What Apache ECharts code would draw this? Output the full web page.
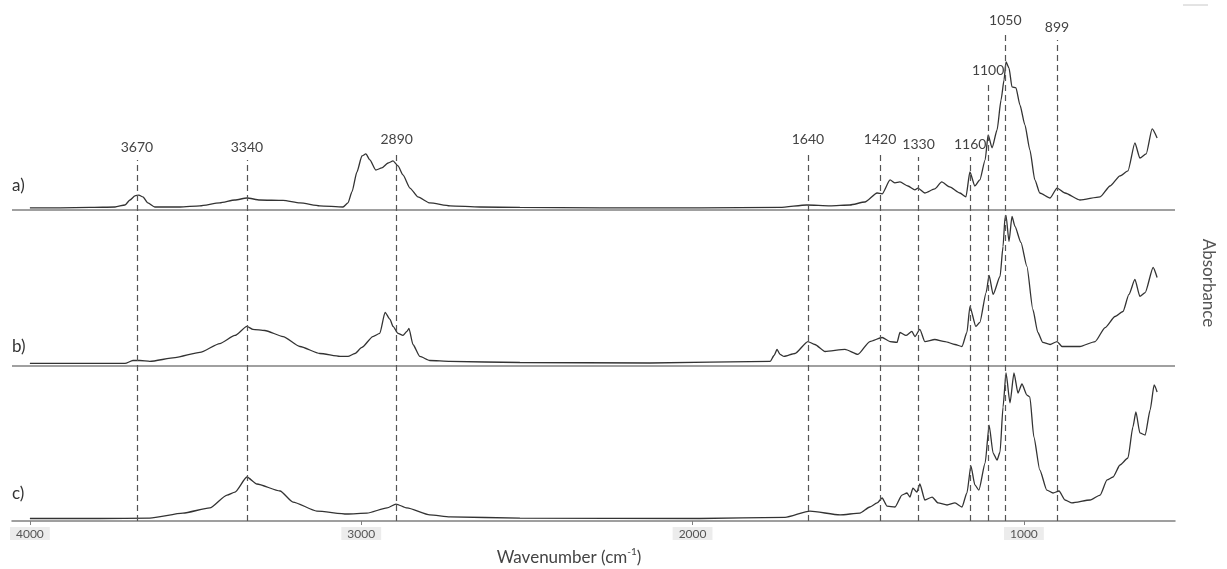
<!DOCTYPE html>
<html>
<head>
<meta charset="utf-8">
<script src="https://cdn.jsdelivr.net/npm/echarts@6/dist/echarts.min.js"></script>
<style>
html,body{margin:0;padding:0;background:#fff;}
#chart{width:1227px;height:569px;}
</style>
</head>
<body>
<div id="chart"></div>
<script>
// ---- data (wavenumber in cm-1, absorbance in arbitrary units) ----
const tickValues = [4000, 3000, 2000, 1000];

const wnA = [4000,3909,3819,3743,3713,3698,3683,3671,3659,3644,3623,3547,3487,3427,3381,3345,3306,3236,3185,3125,3055,3040,3028,3013,2998,2986,2974,2956,2938,2919,2904,2889,2874,2853,2829,2793,2732,2642,2521,2280,1978,1736,1655,1585,1525,1480,1443,1428,1404,1389,1374,1350,1329,1320,1299,1269,1248,1224,1193,1175,1163,1148,1133,1117,1108,1096,1081,1069,1060,1054,1045,1036,1024,1012,997,982,967,952,921,900,876,831,770,740,710,686,665,650,631,613,598];
const absA = [0.013,0.013,0.016,0.019,0.032,0.064,0.090,0.096,0.084,0.045,0.019,0.019,0.026,0.045,0.064,0.077,0.064,0.061,0.045,0.026,0.019,0.045,0.116,0.244,0.347,0.360,0.322,0.257,0.270,0.302,0.315,0.283,0.225,0.141,0.084,0.045,0.026,0.019,0.016,0.013,0.013,0.016,0.032,0.026,0.032,0.051,0.109,0.103,0.193,0.174,0.180,0.154,0.129,0.141,0.109,0.135,0.180,0.148,0.109,0.084,0.244,0.154,0.193,0.322,0.482,0.399,0.514,0.707,0.836,0.952,0.913,0.791,0.785,0.675,0.547,0.386,0.193,0.109,0.077,0.141,0.109,0.064,0.084,0.154,0.219,0.251,0.431,0.334,0.360,0.521,0.463];

const wnB = [4000,3819,3713,3689,3668,3638,3562,3487,3427,3381,3345,3327,3291,3236,3185,3125,3064,3040,3019,2998,2965,2944,2928,2913,2904,2889,2874,2862,2856,2844,2823,2793,2732,2521,2129,1766,1754,1745,1736,1724,1691,1652,1631,1600,1540,1501,1465,1428,1404,1383,1374,1356,1338,1329,1314,1299,1269,1238,1208,1187,1172,1163,1145,1133,1114,1105,1093,1072,1063,1057,1054,1045,1036,1027,1009,991,973,958,943,921,900,885,831,785,755,725,701,683,665,650,634,610,598];
const absB = [0.013,0.013,0.013,0.032,0.032,0.026,0.051,0.084,0.141,0.193,0.251,0.232,0.225,0.186,0.122,0.077,0.058,0.058,0.077,0.116,0.186,0.206,0.341,0.296,0.251,0.206,0.193,0.219,0.238,0.135,0.058,0.032,0.026,0.019,0.016,0.026,0.064,0.103,0.071,0.058,0.077,0.154,0.135,0.090,0.103,0.071,0.154,0.180,0.154,0.148,0.212,0.193,0.219,0.186,0.232,0.154,0.167,0.154,0.135,0.122,0.212,0.379,0.251,0.277,0.469,0.579,0.457,0.572,0.765,0.952,0.965,0.797,0.958,0.894,0.791,0.637,0.360,0.212,0.148,0.135,0.154,0.122,0.122,0.154,0.244,0.315,0.347,0.457,0.553,0.444,0.469,0.630,0.566];

const wnC = [4000,3789,3638,3538,3457,3405,3381,3345,3315,3245,3206,3134,3043,2983,2922,2895,2862,2793,2732,2521,1978,1721,1646,1555,1495,1465,1443,1428,1413,1389,1368,1353,1344,1335,1323,1314,1299,1277,1259,1232,1208,1187,1172,1160,1148,1136,1117,1105,1093,1081,1072,1063,1054,1042,1030,1018,1006,991,982,970,952,931,912,894,876,855,800,770,749,731,710,686,671,662,650,634,619,607,598];
const absC = [0.016,0.016,0.019,0.051,0.084,0.167,0.186,0.283,0.238,0.193,0.122,0.064,0.045,0.051,0.084,0.109,0.084,0.039,0.026,0.019,0.016,0.023,0.064,0.039,0.051,0.090,0.116,0.148,0.096,0.090,0.167,0.180,0.154,0.212,0.186,0.238,0.135,0.154,0.116,0.103,0.116,0.090,0.180,0.354,0.232,0.199,0.373,0.617,0.437,0.392,0.444,0.733,0.952,0.759,0.952,0.823,0.881,0.810,0.797,0.540,0.328,0.199,0.180,0.193,0.135,0.116,0.135,0.167,0.264,0.283,0.360,0.405,0.605,0.701,0.566,0.553,0.714,0.875,0.830];

// assigned band labels and where their guide lines sit on the picture
const guideLabels = ['3670','3340','2890','1640','1420','1330','1160','1100','1050','899'];
const guidePos    = [3677, 3345, 2893, 1652, 1434, 1318, 1162, 1108, 1056, 900];
const guideTop    = [2.322, 2.322, 2.379, 2.373, 2.373, 2.341, 2.341, 2.817, 3.138, 3.093];

const panelNames = ['a)', 'b)', 'c)'];
const panelOffset = [2, 1, 0];

// ---- chart ----
function build(wn, ab, off) { return wn.map((w, i) => [w, ab[i] + off]); }

const lineStyleSpec = { color: '#333', width: 1.3 };
const spectrumBase = { type: 'line', symbol: 'none', silent: true, smooth: 0.2, smoothMonotone: 'x', lineStyle: lineStyleSpec };
const chart = echarts.init(document.getElementById('chart'), null, { renderer: 'canvas' });

chart.setOption({
  animation: false,
  backgroundColor: '#fff',
  grid: { left: 12, right: 52, top: 0, bottom: 48, containLabel: false, outerBoundsMode: 'none' },
  xAxis: {
    type: 'value', inverse: true, min: 544, max: 4054,
    axisLine: { show: true, lineStyle: { color: '#808080', width: 1.5 } },
    axisTick: { show: true, customValues: tickValues, length: 4, lineStyle: { color: '#808080' } },
    axisLabel: { customValues: tickValues, margin: 6, color: '#555', fontSize: 12, fontFamily: 'Lato',
                 backgroundColor: '#ececec', padding: [1, 6, 0, 6], formatter: v => String(v) },
    splitLine: { show: false }
  },
  yAxis: { type: 'value', min: 0, max: 3.35, show: false },
  series: [
    Object.assign({}, spectrumBase, { name: 'a', data: build(wnA, absA, panelOffset[0]) }),
    Object.assign({}, spectrumBase, { name: 'b', data: build(wnB, absB, panelOffset[1]),
      markLine: { symbol: 'none', silent: true, label: { show: false },
        lineStyle: { color: '#808080', width: 1.5, type: 'solid' },
        data: [{ yAxis: panelOffset[1] }, { yAxis: panelOffset[0] }] } }),
    Object.assign({}, spectrumBase, { name: 'c', data: build(wnC, absC, panelOffset[2]),
      markLine: { symbol: 'none', silent: true,
        lineStyle: { color: '#555', width: 1.2, type: [6, 4] },
        label: { show: true, position: 'end', distance: 5, color: '#444', fontSize: 14, fontFamily: 'Lato',
                 formatter: p => guideLabels[p.dataIndex] },
        data: guidePos.map((p, i) => [{ coord: [p, 0] }, { coord: [p, guideTop[i]] }]) } })
  ],
  graphic: [
    { type: 'text', left: 12, top: 177, style: { text: panelNames[0], fontSize: 17, fontFamily: 'Lato', fill: '#333' } },
    { type: 'text', left: 12, top: 338, style: { text: panelNames[1], fontSize: 17, fontFamily: 'Lato', fill: '#333' } },
    { type: 'text', left: 12, top: 485, style: { text: panelNames[2], fontSize: 17, fontFamily: 'Lato', fill: '#333' } },
    { type: 'text', x: 1208, y: 283, rotation: -Math.PI / 2,
      style: { text: 'Absorbance', fontSize: 17, fontFamily: 'Lato', fill: '#555', align: 'center', verticalAlign: 'middle' } },
    { type: 'text', x: 569, y: 558,
      style: { text: '{m|Wavenumber (cm}{s|-1}{m|)}', align: 'center', verticalAlign: 'middle',
               rich: { m: { fontSize: 17, fontFamily: 'Lato', fill: '#444', lineHeight: 22 },
                       s: { fontSize: 10, fontFamily: 'Lato', fill: '#444', lineHeight: 12, verticalAlign: 'top' } } } },
    { type: 'line', shape: { x1: 1183, y1: 5, x2: 1208, y2: 5 }, style: { stroke: '#c8c8c8', lineWidth: 1 } }
  ]
});
</script>
</body>
</html>
